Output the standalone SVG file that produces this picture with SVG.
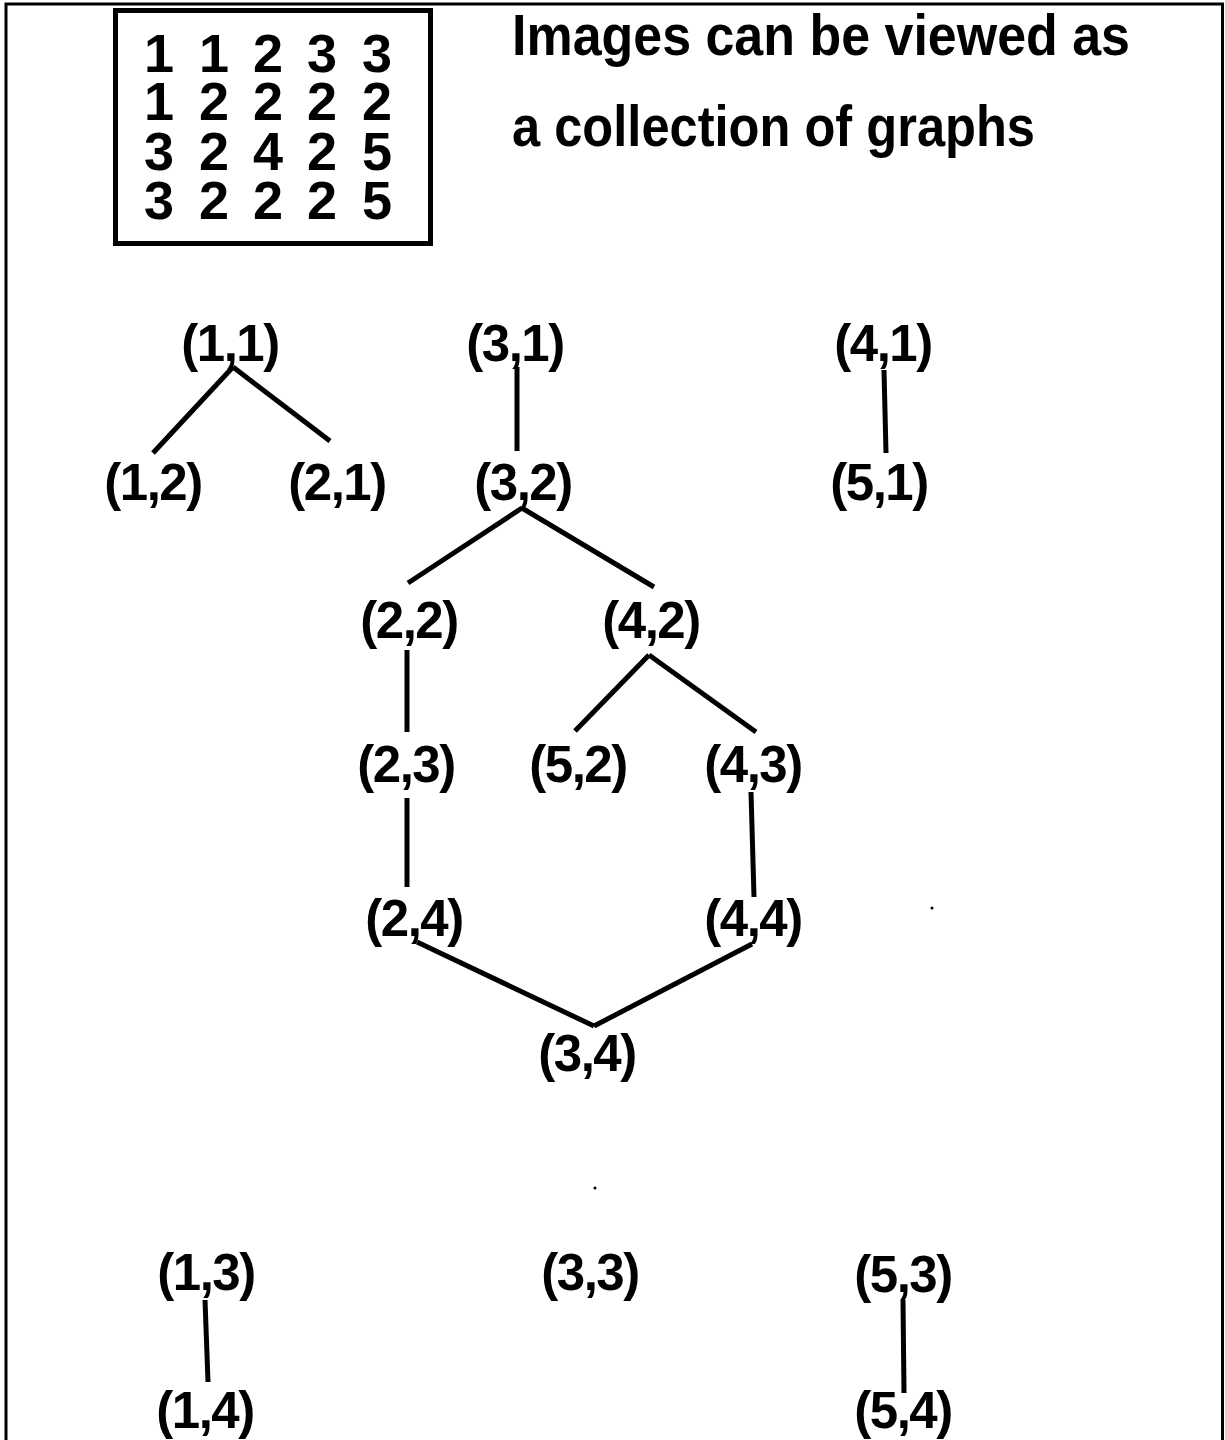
<svg xmlns="http://www.w3.org/2000/svg" width="1225" height="1440" viewBox="0 0 1225 1440">
<style>
.lbl{font-family:"Liberation Sans",Arial,sans-serif;font-weight:bold;font-size:51px;text-anchor:middle;fill:#000;letter-spacing:-1.5px}
.grid{font-family:"Liberation Sans",Arial,sans-serif;font-weight:bold;font-size:54px;text-anchor:middle;fill:#000}
.title{font-family:"Liberation Sans",Arial,sans-serif;font-weight:bold;font-size:57px;fill:#000}
.edge{stroke:#000;stroke-width:5;fill:none;stroke-linecap:butt}
</style>
<rect width="1225" height="1440" fill="#fff"/>
<path d="M6,1440 V4 H1222.5 V1440" fill="none" stroke="#000" stroke-width="3"/>
<g id="matrix">
<rect x="115.5" y="10.5" width="315" height="233" fill="none" stroke="#000" stroke-width="5"/>
<text class="grid" y="72"><tspan x="159">1</tspan><tspan x="214">1</tspan><tspan x="268">2</tspan><tspan x="322">3</tspan><tspan x="377">3</tspan></text>
<text class="grid" y="120"><tspan x="159">1</tspan><tspan x="214">2</tspan><tspan x="268">2</tspan><tspan x="322">2</tspan><tspan x="377">2</tspan></text>
<text class="grid" y="170"><tspan x="159">3</tspan><tspan x="214">2</tspan><tspan x="268">4</tspan><tspan x="322">2</tspan><tspan x="377">5</tspan></text>
<text class="grid" y="219"><tspan x="159">3</tspan><tspan x="214">2</tspan><tspan x="268">2</tspan><tspan x="322">2</tspan><tspan x="377">5</tspan></text>
</g>
<g id="title">
<text class="title" x="512" y="55" textLength="618" lengthAdjust="spacingAndGlyphs">Images can be viewed as</text>
<text class="title" x="512" y="146" textLength="523" lengthAdjust="spacingAndGlyphs">a collection of graphs</text>
</g>
<g id="connectors">
<line class="edge" x1="233" y1="367" x2="153" y2="453"/>
<line class="edge" x1="233" y1="367" x2="330" y2="441"/>
<line class="edge" x1="517" y1="367" x2="517" y2="451"/>
<line class="edge" x1="884" y1="370" x2="886" y2="453"/>
<line class="edge" x1="522" y1="508" x2="408" y2="583"/>
<line class="edge" x1="522" y1="508" x2="654" y2="587"/>
<line class="edge" x1="407" y1="650" x2="407" y2="732"/>
<line class="edge" x1="649" y1="655" x2="575" y2="731"/>
<line class="edge" x1="649" y1="655" x2="756" y2="732"/>
<line class="edge" x1="407" y1="798" x2="407" y2="887"/>
<line class="edge" x1="751" y1="792" x2="754" y2="897"/>
<line class="edge" x1="417" y1="942" x2="594" y2="1026"/>
<line class="edge" x1="752" y1="944" x2="594" y2="1026"/>
<line class="edge" x1="205" y1="1300" x2="208" y2="1382"/>
<line class="edge" x1="903" y1="1300" x2="904" y2="1393"/>
</g>
<g id="n11"><text class="lbl" x="230" y="361">(1,1)</text></g>
<g id="n31"><text class="lbl" x="515" y="361">(3,1)</text></g>
<g id="n41"><text class="lbl" x="883" y="361">(4,1)</text></g>
<g id="n12"><text class="lbl" x="153" y="500">(1,2)</text></g>
<g id="n21"><text class="lbl" x="337" y="500">(2,1)</text></g>
<g id="n32"><text class="lbl" x="523" y="500">(3,2)</text></g>
<g id="n51"><text class="lbl" x="879" y="500">(5,1)</text></g>
<g id="n22"><text class="lbl" x="409" y="638">(2,2)</text></g>
<g id="n42"><text class="lbl" x="651" y="638">(4,2)</text></g>
<g id="n23"><text class="lbl" x="406" y="782">(2,3)</text></g>
<g id="n52"><text class="lbl" x="578" y="782">(5,2)</text></g>
<g id="n43"><text class="lbl" x="753" y="782">(4,3)</text></g>
<g id="n24"><text class="lbl" x="414" y="936">(2,4)</text></g>
<g id="n44"><text class="lbl" x="753" y="936">(4,4)</text></g>
<g id="n34"><text class="lbl" x="587" y="1071">(3,4)</text></g>
<g id="n13"><text class="lbl" x="206" y="1290">(1,3)</text></g>
<g id="n33"><text class="lbl" x="590" y="1290">(3,3)</text></g>
<g id="n53"><text class="lbl" x="903" y="1292">(5,3)</text></g>
<g id="n14"><text class="lbl" x="205" y="1428">(1,4)</text></g>
<g id="n54"><text class="lbl" x="903" y="1428">(5,4)</text></g>
<circle cx="932" cy="908" r="1.5" fill="#000"/>
<circle cx="595" cy="1188" r="1.5" fill="#000"/>
</svg>
